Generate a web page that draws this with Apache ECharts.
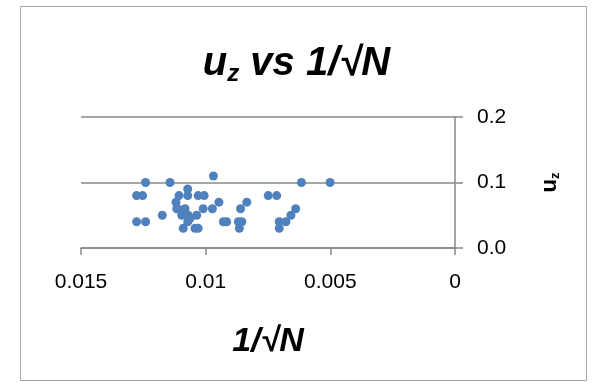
<!DOCTYPE html>
<html><head><meta charset="utf-8">
<script src="https://cdn.jsdelivr.net/npm/echarts@6/dist/echarts.min.js"></script>
<style>html,body{margin:0;padding:0;background:#fff}#c{width:593px;height:383px}</style>
</head><body><div id="c"></div>
<script>
const xValues = [0.01241,0.01143,0.00969,0.00616,0.00501,0.01277,0.01253,0.01072,0.01107,0.01072,0.0103,0.01006,0.00749,0.00715,0.01119,0.00947,0.00835,0.01116,0.01083,0.0101,0.00973,0.0086,0.00639,0.01096,0.0107,0.01036,0.01174,0.00658,0.01277,0.01241,0.01072,0.00929,0.00916,0.00869,0.00855,0.00705,0.00678,0.0109,0.01043,0.0103,0.00865,0.00705,0.01112,0.01063];
const yValues = [0.10,0.10,0.11,0.10,0.10,0.08,0.08,0.09,0.08,0.08,0.08,0.08,0.08,0.08,0.07,0.07,0.07,0.06,0.06,0.06,0.06,0.06,0.06,0.05,0.05,0.05,0.05,0.05,0.04,0.04,0.04,0.04,0.04,0.04,0.04,0.04,0.04,0.03,0.03,0.03,0.03,0.03,0.06,0.045];
const xTicks = [0, 0.005, 0.01, 0.015];
const yTicks = [0.0, 0.1, 0.2];

const data = xValues.map((x, i) => [x, yValues[i]]);
const chart = echarts.init(document.getElementById('c'));
const FONT = 'Liberation Sans';
chart.setOption({
  animation: false,
  textStyle: { fontFamily: FONT },
  graphic: [{ type: 'rect', shape: { x: 20.5, y: 6.5, width: 566, height: 374 }, style: { fill: 'none', stroke: '#a6a6a6', lineWidth: 1 } }],
  title: {
    text: '{a|u}{s|z}{a| vs 1/√N}',
    left: 'center', top: 36,
    textStyle: { rich: {
      a: { fontFamily: FONT, fontSize: 40, fontWeight: 'bold', fontStyle: 'italic', color: '#000' },
      s: { fontFamily: FONT, fontSize: 24, fontWeight: 'bold', fontStyle: 'italic', color: '#000', verticalAlign: 'bottom', padding: [21, 0, 0, 0] }
    } }
  },
  grid: { left: 81, right: 138, top: 117, bottom: 135 },
  xAxis: {
    type: 'value', inverse: true, min: xTicks[0], max: xTicks[xTicks.length - 1], interval: 0.005,
    name: '1/√N', nameLocation: 'middle', nameGap: 77,
    nameTextStyle: { fontFamily: FONT, fontSize: 34, fontWeight: 'bold', fontStyle: 'italic', color: '#000' },
    axisLine: { show: true, onZero: false, lineStyle: { color: '#888', width: 1.5 } },
    axisTick: { show: true, length: 7, lineStyle: { color: '#888', width: 1.5 } },
    axisLabel: { fontFamily: FONT, fontSize: 21, color: '#000', margin: 24, formatter: v => String(v) },
    splitLine: { show: false }
  },
  yAxis: {
    type: 'value', position: 'right', min: yTicks[0], max: yTicks[yTicks.length - 1], interval: 0.1,
    name: '{a|u}{s|z}', nameLocation: 'middle', nameGap: 82, nameRotate: 90,
    nameTextStyle: { rich: {
      a: { fontFamily: FONT, fontSize: 22, fontWeight: 'bold', color: '#000' },
      s: { fontFamily: FONT, fontSize: 13, fontWeight: 'bold', color: '#000', verticalAlign: 'bottom', padding: [12, 0, 0, 0] }
    } },
    axisLine: { show: true, onZero: false, lineStyle: { color: '#888', width: 1.5 } },
    axisTick: { show: true, length: 8, lineStyle: { color: '#888', width: 1.5 } },
    axisLabel: { fontFamily: FONT, fontSize: 21, color: '#000', margin: 22, formatter: v => v.toFixed(1) },
    splitLine: { show: true, lineStyle: { color: '#888', width: 1.5 } }
  },
  series: [{
    type: 'scatter', data: data, symbol: 'circle', symbolSize: 9,
    itemStyle: { color: '#4f81bd', opacity: 1 }
  }]
});
</script></body></html>
